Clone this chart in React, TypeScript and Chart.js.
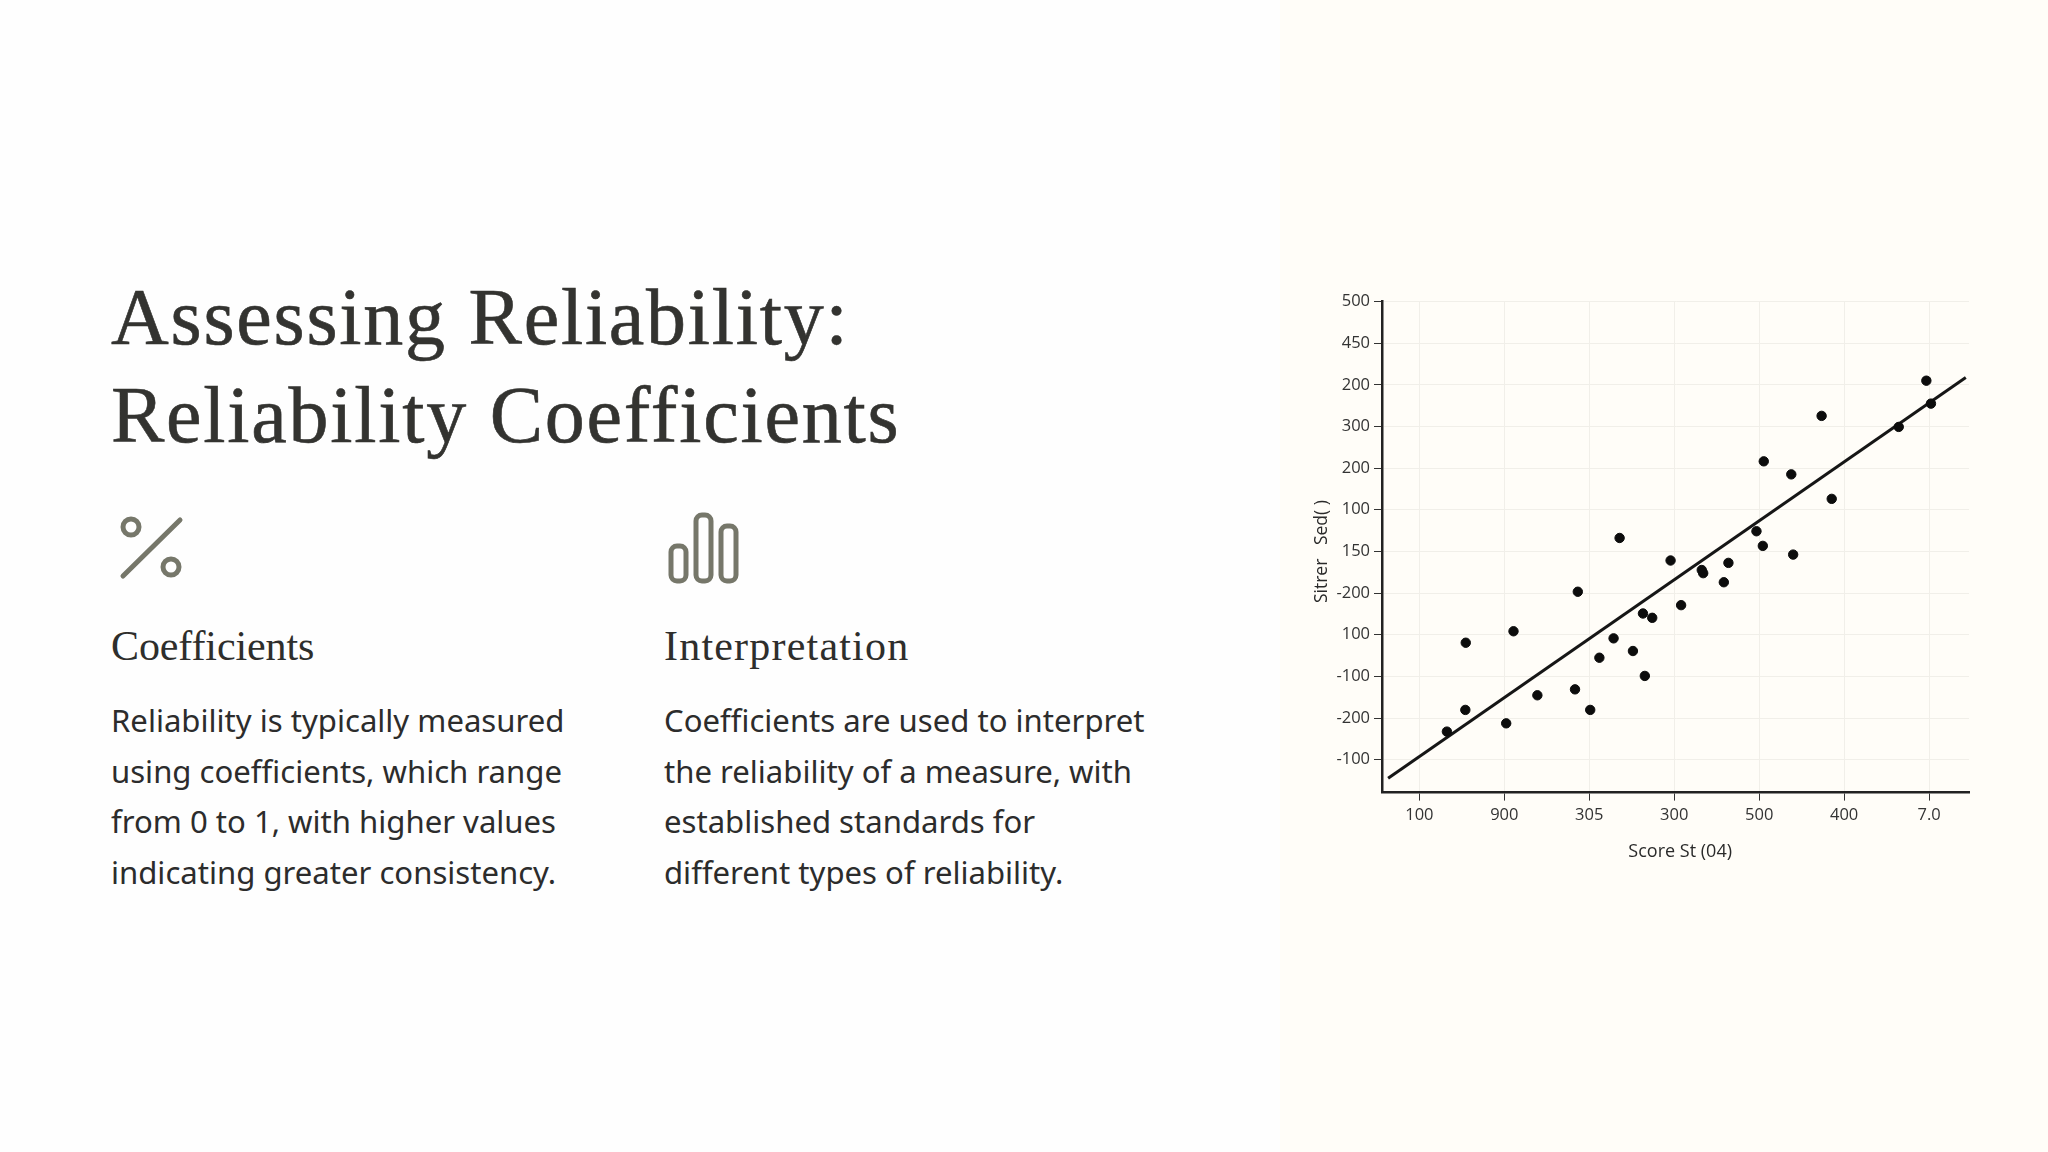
import React, { useEffect, useRef } from "react";
import { Chart, registerables } from "chart.js";

Chart.register(...registerables);

const xTickLabels = ["100", "900", "305", "300", "500", "400", "7.0"];
const yTickLabels = ["-100", "-200", "-100", "100", "-200", "150", "100", "200", "300", "200", "450", "500"];
const xValues = [0.324, 0.546, 0.541, 1.022, 1.108, 1.389, 1.832, 1.865, 2.011, 2.119, 2.286, 2.357, 2.514, 2.632, 2.654, 2.741, 2.957, 3.081, 3.324, 3.341, 3.584, 3.638, 3.968, 4.043, 4.054, 4.378, 4.4, 4.735, 4.854, 5.643, 5.968, 6.022];
const yValues = [0.674, 2.808, 1.195, 0.873, 3.083, 1.546, 1.689, 4.032, 1.195, 2.448, 2.913, 5.323, 2.609, 3.51, 2.011, 3.406, 4.782, 3.71, 4.554, 4.478, 4.26, 4.725, 5.484, 5.133, 7.163, 6.85, 4.924, 8.254, 6.262, 7.989, 9.099, 8.548];
const fitX = [-0.368, 6.432];
const fitY = [-0.446, 9.175];
const xAxisTitle = "  Score St (04)";
const yAxisTitle = "Sitrer   Sed( )  ";

const title = ["Assessing Reliability:", "Reliability Coefficients"];
const col1 = ["Reliability is typically measured", "using coefficients, which range", "from 0 to 1, with higher values", "indicating greater consistency."];
const col2 = ["Coefficients are used to interpret", "the reliability of a measure, with", "established standards for", "different types of reliability."];

const abs = (left: number, top: number): React.CSSProperties => ({ position: "absolute", left, top, whiteSpace: "nowrap" });
const serif = "'Liberation Serif', serif";
const sans = "'Noto Sans', sans-serif";

export default function App() {
  const ref = useRef<HTMLCanvasElement>(null);
  useEffect(() => {
    const tickFont = { family: "'Open Sans'", size: 16.5 };
    const chart = new Chart(ref.current!, {
      type: "scatter",
      data: {
        datasets: [
          {
            data: xValues.map((x, i) => ({ x, y: yValues[i] })),
            backgroundColor: "#0c0c0c",
            borderColor: "#0c0c0c",
            pointRadius: 4.7,
            order: 1,
          },
          {
            data: fitX.map((x, i) => ({ x, y: fitY[i] })),
            showLine: true,
            pointRadius: 0,
            borderColor: "#161616",
            borderWidth: 3,
            order: 2,
          },
        ],
      },
      options: {
        animation: false,
        responsive: false,
        layout: { padding: { top: 20.5, right: 21, left: 0, bottom: 0 } },
        plugins: { legend: { display: false }, tooltip: { enabled: false } },
        scales: {
          x: {
            type: "linear",
            min: -0.44,
            max: 6.47,
            afterFit: (s: any) => { s.height = 88.4; },
            grid: { color: "#f1efe9", tickColor: "#333", tickLength: 8, lineWidth: 1 },
            border: { color: "#222", width: 2.5 },
            ticks: {
              stepSize: 1,
              includeBounds: false,
              autoSkip: false,
              maxRotation: 0,
              color: "#333",
              font: tickFont,
              padding: 5,
              callback: (v: any) => xTickLabels[Math.round(v)] ?? "",
            },
            title: { display: true, text: xAxisTitle, color: "#2a2a2a", font: { family: "'Open Sans'", size: 18 }, padding: { top: 0, bottom: 18 } },
          },
          y: {
            type: "linear",
            min: -0.79,
            max: 11,
            afterFit: (s: any) => { s.width = 92; },
            grid: { color: "#f1efe9", tickColor: "#333", tickLength: 8, lineWidth: 1 },
            border: { color: "#222", width: 2.5 },
            ticks: {
              stepSize: 1,
              includeBounds: false,
              autoSkip: false,
              color: "#333",
              font: tickFont,
              padding: 4,
              callback: (v: any) => yTickLabels[Math.round(v)] ?? "",
            },
            title: { display: true, text: yAxisTitle, color: "#2a2a2a", font: { family: "'Open Sans'", size: 17.5 }, padding: { top: 22, bottom: 0 } },
          },
        },
      },
    } as any);
    return () => chart.destroy();
  }, []);

  const icon = "#76776a";
  return (
    <div style={{ position: "absolute", left: 0, top: 0, width: 2048, height: 1152, background: "#fefefe", overflow: "hidden" }}>
      <div style={{ position: "absolute", left: 1280, top: 0, width: 768, height: 1152, background: "#fffdf8" }} />
      {title.map((t, i) => (
        <div key={t} style={{ ...abs(111, 268 + i * 98), fontFamily: serif, fontSize: 80, lineHeight: "98px", letterSpacing: 1.75, WebkitTextStroke: "0.6px #333330", color: "#333330" }}>{t}</div>
      ))}
      <svg style={{ position: "absolute", left: 0, top: 0 }} width={1000} height={700} fill="none" stroke={icon} strokeWidth={5}>
        <circle cx={131} cy={527} r={8} />
        <circle cx={171} cy={567} r={8} />
        <line x1={123} y1={576} x2={180} y2={520} strokeLinecap="round" />
        <rect x={671} y={546} width={15} height={35} rx={6} />
        <rect x={696} y={515} width={15} height={66} rx={6} />
        <rect x={721} y={526} width={15} height={55} rx={6} />
      </svg>
      <div style={{ ...abs(111, 620), fontFamily: serif, fontSize: 42, lineHeight: "52px", letterSpacing: -0.1, color: "#2e2e2c" }}>Coefficients</div>
      <div style={{ ...abs(664, 620), fontFamily: serif, fontSize: 42, lineHeight: "52px", letterSpacing: 1.2, color: "#2e2e2c" }}>Interpretation</div>
      {col1.map((t, i) => (
        <div key={t} style={{ ...abs(111, 695 + i * 50.7), fontFamily: sans, fontSize: 31.1, lineHeight: "50px", color: "#2c2c2c" }}>{t}</div>
      ))}
      {col2.map((t, i) => (
        <div key={t} style={{ ...abs(664, 695 + i * 50.7), fontFamily: sans, fontSize: 31.1, lineHeight: "50px", color: "#2c2c2c" }}>{t}</div>
      ))}
      <canvas ref={ref} width={700} height={600} style={{ position: "absolute", left: 1290, top: 280.5, width: 700, height: 600 }} />
    </div>
  );
}
